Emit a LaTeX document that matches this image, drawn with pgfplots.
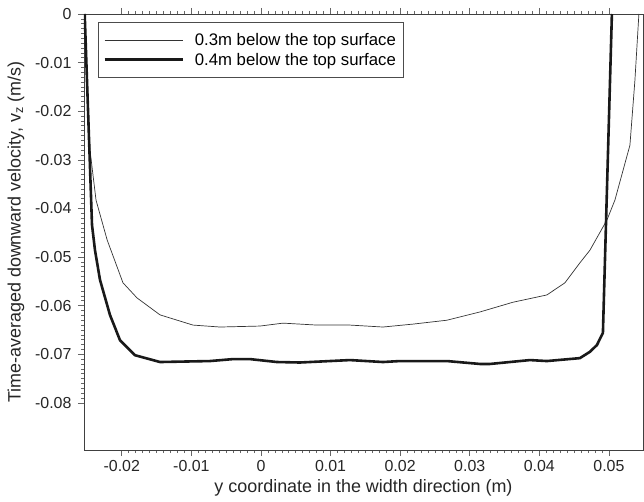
\documentclass[border=0pt]{standalone}
\usepackage{pgfplots}
\pgfplotsset{compat=1.18}
\usepackage{fontspec}
\setmainfont{Liberation Sans}

\pgfplotstableread{
x y
-0.02533 0
-0.02457 -0.0280
-0.02370 -0.0383
-0.02210 -0.0465
-0.01983 -0.0553
-0.01782 -0.0584
-0.01451 -0.0619
-0.00977 -0.0640
-0.00589 -0.0644
-0.00014 -0.0642
0.00316 -0.0636
0.00805 -0.0640
0.01279 -0.0640
0.01753 -0.0644
0.02184 -0.0638
0.02672 -0.0630
0.03147 -0.0613
0.03621 -0.0593
0.04109 -0.0578
0.04368 -0.0553
0.04583 -0.0512
0.04727 -0.0486
0.04971 -0.0424
0.05086 -0.0383
0.05302 -0.0270
0.05374 -0.0136
0.05431 0
}\depththree

\pgfplotstableread{
x y
-0.02533 0
-0.02428 -0.0434
-0.02385 -0.0486
-0.02313 -0.0547
-0.02170 -0.0619
-0.02026 -0.0671
-0.01810 -0.0702
-0.01451 -0.0716
-0.00733 -0.0714
-0.00402 -0.0710
-0.00158 -0.0710
0.00230 -0.0716
0.00560 -0.0717
0.01279 -0.0712
0.01753 -0.0716
0.01997 -0.0714
0.02672 -0.0714
0.03147 -0.0720
0.03290 -0.0720
0.03865 -0.0712
0.04109 -0.0714
0.04583 -0.0708
0.04727 -0.0695
0.04828 -0.0681
0.04914 -0.0656
0.05043 0
}\depthfour

\begin{document}
\begin{tikzpicture}
\begin{axis}[
    scale only axis,
    width=559bp, height=436bp,
    xmin=-0.02543, xmax=0.0549,
    ymin=-0.0897, ymax=0,
    scaled ticks=false,
    axis line style={black!75, line width=0.8bp},
    xtick={-0.02,-0.01,0,0.01,0.02,0.03,0.04,0.05},
    xticklabels={-0.02,-0.01,0,0.01,0.02,0.03,0.04,0.05},
    ytick={0,-0.01,-0.02,-0.03,-0.04,-0.05,-0.06,-0.07,-0.08},
    yticklabels={0,-0.01,-0.02,-0.03,-0.04,-0.05,-0.06,-0.07,-0.08},
    minor x tick num=9,
    minor y tick num=9,
    tick align=outside,
    xtick pos=both,
    ytick pos=left,
    major tick length=6bp,
    minor tick length=3bp,
    every tick/.style={black!60, line width=0.6bp},
    tick label style={font=\fontsize{16}{19}\selectfont, black!85},
    xticklabel style={yshift=-1bp},
    yticklabel style={xshift=-3bp},
    xlabel={y coordinate in the width direction (m)},
    ylabel={Time-averaged downward velocity, v\textsubscript{z} (m/s)},
    label style={font=\fontsize{18}{21}\selectfont, black!85},
    xlabel style={yshift=-1bp},
    ylabel style={yshift=4bp},
    legend cell align=left,
    legend style={at={(rel axis cs:0,1)}, anchor=north west,
        xshift=14bp, yshift=-8bp, draw=black!70, line width=0.6bp,
        font=\fontsize{16.8}{20}\selectfont,
        inner xsep=5bp, inner ysep=9bp, row sep=2bp,
        /tikz/every odd column/.append style={column sep=9bp}},
    legend image code/.code={\draw[#1] (0bp,0bp) -- (78bp,0bp);},
]
\addplot[black!80, line width=0.7bp] table[x=x,y=y] {\depththree};
\addlegendentry{0.3m below the top surface}
\addplot[black!90, line width=2.6bp] table[x=x,y=y] {\depthfour};
\addlegendentry{0.4m below the top surface}
\end{axis}
\useasboundingbox ([xshift=-84bp,yshift=14bp]current axis.north west)
    rectangle ([xshift=1bp,yshift=-52bp]current axis.south east);
\end{tikzpicture}
\end{document}
